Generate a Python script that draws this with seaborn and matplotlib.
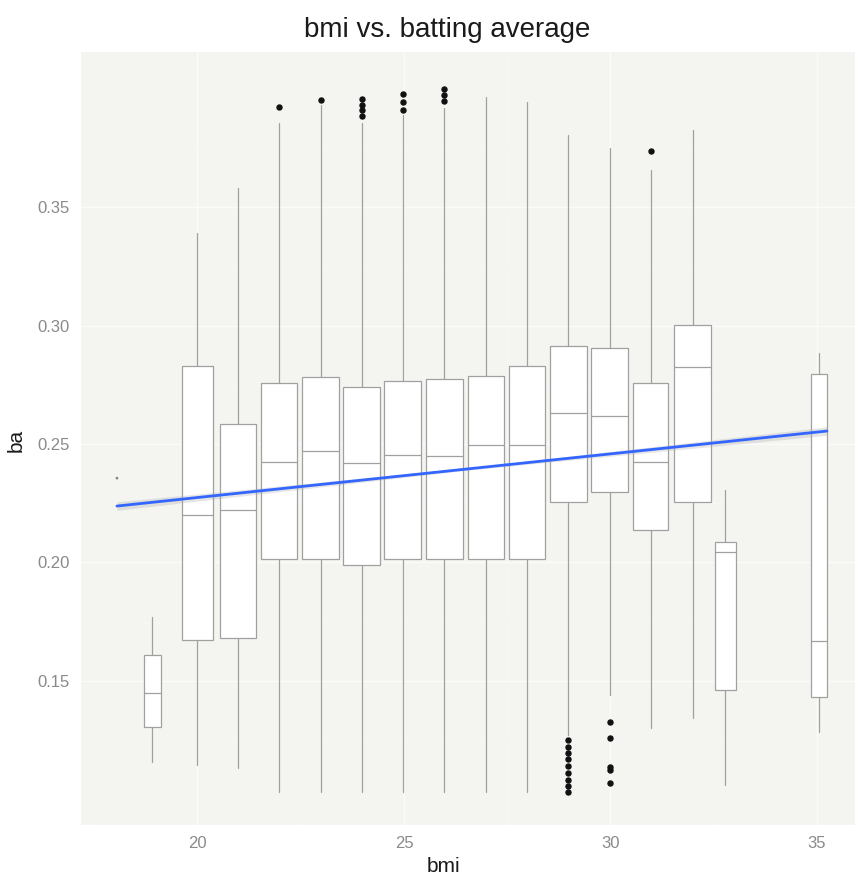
import matplotlib
matplotlib.use("Agg")
import matplotlib.pyplot as plt
import seaborn as sns
import pandas as pd

# bmi groups (box centres), box widths and five-number summaries of batting average
bmi_center = [18.9, 20.0, 20.97, 21.98, 22.98, 23.98, 24.97, 25.98, 26.98, 27.98,
              28.98, 29.98, 30.97, 31.99, 32.78, 35.05]
box_width = [0.41, 0.75, 0.87, 0.87, 0.89, 0.90, 0.89, 0.88, 0.88, 0.89,
             0.90, 0.90, 0.86, 0.90, 0.51, 0.39]
whisker_low = [0.1156, 0.1143, 0.1130, 0.1030, 0.1030, 0.1030, 0.1030, 0.1030, 0.1030, 0.1030,
               0.1270, 0.1439, 0.1300, 0.1342, 0.1059, 0.1283]
q1 = [0.1304, 0.1670, 0.1680, 0.2014, 0.2014, 0.1989, 0.2014, 0.2014, 0.2014, 0.2014,
      0.2255, 0.2297, 0.2137, 0.2255, 0.1460, 0.1431]
median = [0.1448, 0.2200, 0.2221, 0.2424, 0.2470, 0.2420, 0.2454, 0.2450, 0.2496, 0.2496,
          0.2630, 0.2618, 0.2424, 0.2825, 0.2044, 0.1667]
q3 = [0.1608, 0.2830, 0.2585, 0.2758, 0.2783, 0.2741, 0.2766, 0.2775, 0.2787, 0.2830,
      0.2914, 0.2906, 0.2758, 0.3003, 0.2086, 0.2796]
whisker_high = [0.1769, 0.3390, 0.3582, 0.3857, 0.3933, 0.3857, 0.3890, 0.3920, 0.3967, 0.3945,
                0.3806, 0.3750, 0.3658, 0.3827, 0.2306, 0.2885]
outliers = [[], [], [], [0.3924], [0.3954], [0.3960, 0.3935, 0.3910, 0.3885],
            [0.3980, 0.3945, 0.3910], [0.4000, 0.3975, 0.3950], [], [],
            [0.1250, 0.1220, 0.1195, 0.1170, 0.1140, 0.1110, 0.1080, 0.1055, 0.1030],
            [0.1325, 0.1257, 0.1135, 0.1122, 0.1067], [0.3738], [], [], []]

# single observation at the low end of bmi
single_bmi = [18.05]
single_ba = [0.2356]

# linear fit of ba on bmi with its standard-error band
fit_bmi = [18.05, 26.6, 35.24]
fit_ba = [0.2238, 0.2396, 0.2555]
fit_se = [0.0018, 0.0005, 0.0018]

x_ticks = [20, 25, 30, 35]
y_ticks = [0.15, 0.20, 0.25, 0.30, 0.35]

sns.set_theme(style="darkgrid")
plt.rcParams["font.family"] = ["Liberation Sans", "DejaVu Sans"]

fig = plt.figure(figsize=(8.61, 8.83), dpi=100)
ax = fig.add_axes([81 / 861, 1 - 825 / 883, 774 / 861, 773 / 883])
ax.set_facecolor("#f4f4f1")

box_edge = "#a0a0a0"
stats = []
for i in range(len(bmi_center)):
    stats.append(dict(med=median[i], q1=q1[i], q3=q3[i],
                      whislo=whisker_low[i], whishi=whisker_high[i],
                      fliers=outliers[i]))
ax.bxp(stats, positions=bmi_center, widths=box_width, patch_artist=True,
       showcaps=False, manage_ticks=False,
       boxprops=dict(facecolor="white", edgecolor=box_edge, linewidth=0.9),
       medianprops=dict(color=box_edge, linewidth=0.9),
       whiskerprops=dict(color=box_edge, linewidth=0.9),
       flierprops=dict(marker="o", markersize=3.6, markerfacecolor="#111111",
                       markeredgecolor="#111111", linestyle="none"),
       zorder=2)

sns.scatterplot(x=single_bmi, y=single_ba, ax=ax, color="#888888", s=4,
                edgecolor="none", zorder=3)

fit = pd.DataFrame({"bmi": fit_bmi, "ba": fit_ba, "se": fit_se})
ax.fill_between(fit["bmi"], fit["ba"] - fit["se"], fit["ba"] + fit["se"],
                color="#aaaaaa", alpha=0.3, linewidth=0, zorder=3)
sns.lineplot(data=fit, x="bmi", y="ba", ax=ax, color="#3366FF", linewidth=2, zorder=4)

ax.set_xlim(17.18, 35.92)
ax.set_ylim(0.089, 0.4157)
ax.set_xticks(x_ticks)
ax.set_xticklabels([str(t) for t in x_ticks])
ax.set_yticks(y_ticks)
ax.set_yticklabels([f"{t:.2f}" for t in y_ticks])
ax.set_xticks([17.5, 22.5, 27.5, 32.5], minor=True)
ax.set_yticks([0.125, 0.175, 0.225, 0.275, 0.325, 0.375], minor=True)
ax.grid(which="major", color="#fbfbfa", linewidth=1.0)
ax.grid(which="minor", color="#f8f8f6", linewidth=0.5)
ax.tick_params(which="major", length=3, width=0.8, color="#d0d0d0",
               labelcolor="#8a8a8a", labelsize=12, pad=5)
ax.tick_params(which="minor", length=0)
for s in ax.spines.values():
    s.set_visible(False)
ax.set_xlabel("")
ax.set_ylabel("")

fig.text(447 / 861, 1 - 30 / 883, "bmi vs. batting average", ha="center", va="center",
         fontsize=20, color="#1a1a1a")
fig.text(444 / 861, 1 - 866 / 883, "bmi", ha="center", va="center",
         fontsize=15, color="#1a1a1a")
fig.text(16 / 861, 1 - 440 / 883, "ba", ha="center", va="center", rotation=90,
         fontsize=15, color="#1a1a1a")

fig.savefig("out.png", dpi=100)
